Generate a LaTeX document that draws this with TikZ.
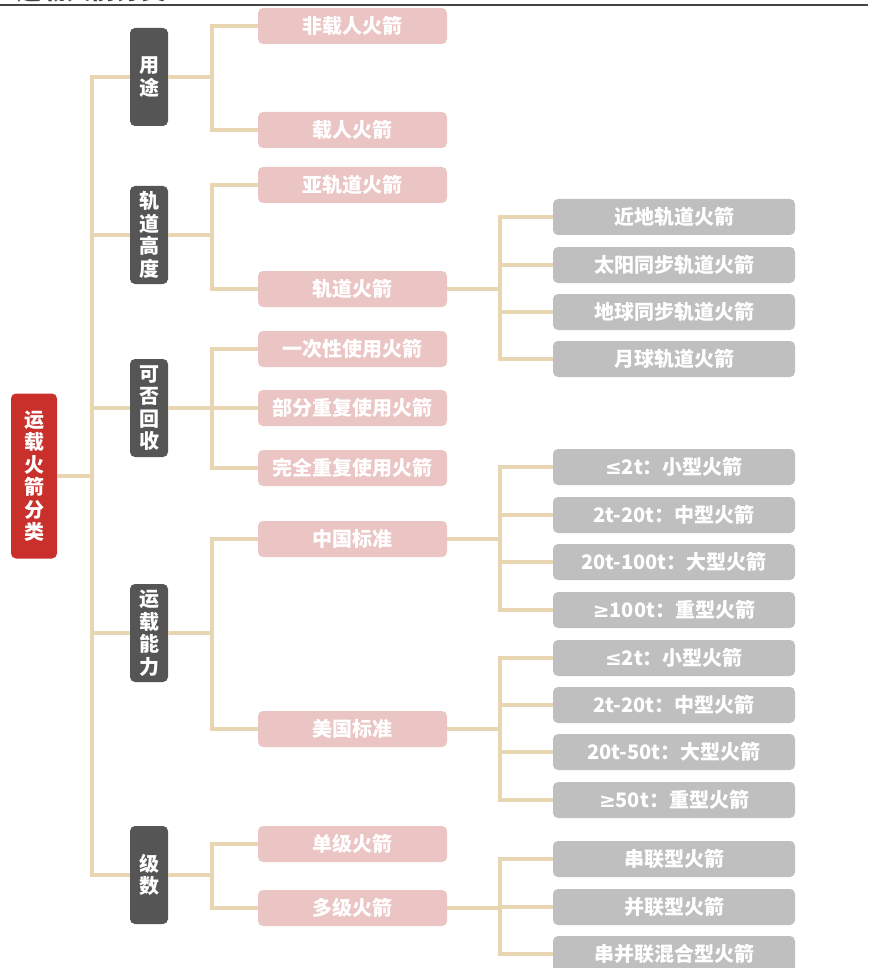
\documentclass[tikz,border=0pt]{standalone}
\usepackage{fontspec}
\setmainfont{Noto Sans CJK SC}
\newfontfamily\symf{DejaVu Sans}
\newcommand{\myle}{{\symf ≤}}
\newcommand{\myge}{{\symf ≥}}
\definecolor{rootred}{HTML}{C9302C}
\definecolor{darkbox}{HTML}{555555}
\definecolor{pinkbox}{HTML}{EBC4C4}
\definecolor{graybox}{HTML}{BFBFBF}
\definecolor{connc}{HTML}{E8D6B3}
\definecolor{titlec}{HTML}{444444}
\begin{document}
\begin{tikzpicture}[x=1pt,y=-1pt,
  box/.style={rounded corners=5pt, inner sep=0pt, text=white, align=center,
    font=\fontsize{20}{22.5}\selectfont\bfseries},
  rootbox/.style={box, fill=rootred, minimum width=46, minimum height=165},
  catbox/.style={box, fill=darkbox, minimum width=38, minimum height=98},
  pinkb/.style={box, fill=pinkbox, minimum width=189, minimum height=36},
  grayb/.style={box, fill=graybox, minimum width=242, minimum height=36},
  conn/.style={draw=connc, line width=3.5pt}]
\useasboundingbox (0,0) rectangle (868,968);
\begin{scope}
\clip (0,0) rectangle (868,968);
\node[anchor=base west, text=titlec, inner sep=0pt, font=\fontsize{25}{25}\selectfont\bfseries] (title) at (16,0) {运载火箭分类};
\end{scope}
\draw[draw=titlec, line width=2pt] (0,5.5) -- (868,5.5);

% root
\node[rootbox] (root) at (34,476) {运\\载\\火\\箭\\分\\类};
% level 1
\node[catbox] (c1) at (149,77) {用\\途};
\node[catbox] (c2) at (149,235) {轨\\道\\高\\度};
\node[catbox] (c3) at (149,408) {可\\否\\回\\收};
\node[catbox] (c4) at (149,633) {运\\载\\能\\力};
\node[catbox] (c5) at (149,875) {级\\数};
% level 2
\node[pinkb] (p1) at (352.5,26) {非载人火箭};
\node[pinkb] (p2) at (352.5,130) {载人火箭};
\node[pinkb] (p3) at (352.5,185) {亚轨道火箭};
\node[pinkb] (p4) at (352.5,289) {轨道火箭};
\node[pinkb] (p5) at (352.5,349) {一次性使用火箭};
\node[pinkb] (p6) at (352.5,408) {部分重复使用火箭};
\node[pinkb] (p7) at (352.5,468) {完全重复使用火箭};
\node[pinkb] (p8) at (352.5,539) {中国标准};
\node[pinkb] (p9) at (352.5,729) {美国标准};
\node[pinkb] (p10) at (352.5,844) {单级火箭};
\node[pinkb] (p11) at (352.5,908) {多级火箭};
% level 3
\node[grayb] (g1) at (674,217) {近地轨道火箭};
\node[grayb] (g2) at (674,265) {太阳同步轨道火箭};
\node[grayb] (g3) at (674,312) {地球同步轨道火箭};
\node[grayb] (g4) at (674,359) {月球轨道火箭};
\node[grayb] (g5) at (674,467) {\myle 2t：小型火箭};
\node[grayb] (g6) at (674,515) {2t-20t：中型火箭};
\node[grayb] (g7) at (674,562) {20t-100t：大型火箭};
\node[grayb] (g8) at (674,610) {\myge 100t：重型火箭};
\node[grayb] (g9) at (674,658) {\myle 2t：小型火箭};
\node[grayb] (g10) at (674,705) {2t-20t：中型火箭};
\node[grayb] (g11) at (674,752) {20t-50t：大型火箭};
\node[grayb] (g12) at (674,800) {\myge 50t：重型火箭};
\node[grayb] (g13) at (674,859) {串联型火箭};
\node[grayb] (g14) at (674,907) {并联型火箭};
\node[grayb] (g15) at (674,954) {串并联混合型火箭};

% connectors
\foreach \c in {c1,c2,c3,c4,c5} \draw[conn] (root.east) -- ++(35,0) |- (\c.west);
\foreach \p in {p1,p2} \draw[conn] (c1.east) -- ++(44,0) |- (\p.west);
\foreach \p in {p3,p4} \draw[conn] (c2.east) -- ++(44,0) |- (\p.west);
\foreach \p in {p5,p6,p7} \draw[conn] (c3.east) -- ++(44,0) |- (\p.west);
\foreach \p in {p8,p9} \draw[conn] (c4.east) -- ++(44,0) |- (\p.west);
\foreach \p in {p10,p11} \draw[conn] (c5.east) -- ++(44,0) |- (\p.west);
\foreach \g in {g1,g2,g3,g4} \draw[conn] (p4.east) -- ++(53,0) |- (\g.west);
\foreach \g in {g5,g6,g7,g8} \draw[conn] (p8.east) -- ++(53,0) |- (\g.west);
\foreach \g in {g9,g10,g11,g12} \draw[conn] (p9.east) -- ++(53,0) |- (\g.west);
\foreach \g in {g13,g14,g15} \draw[conn] (p11.east) -- ++(53,0) |- (\g.west);
\end{tikzpicture}
\end{document}
